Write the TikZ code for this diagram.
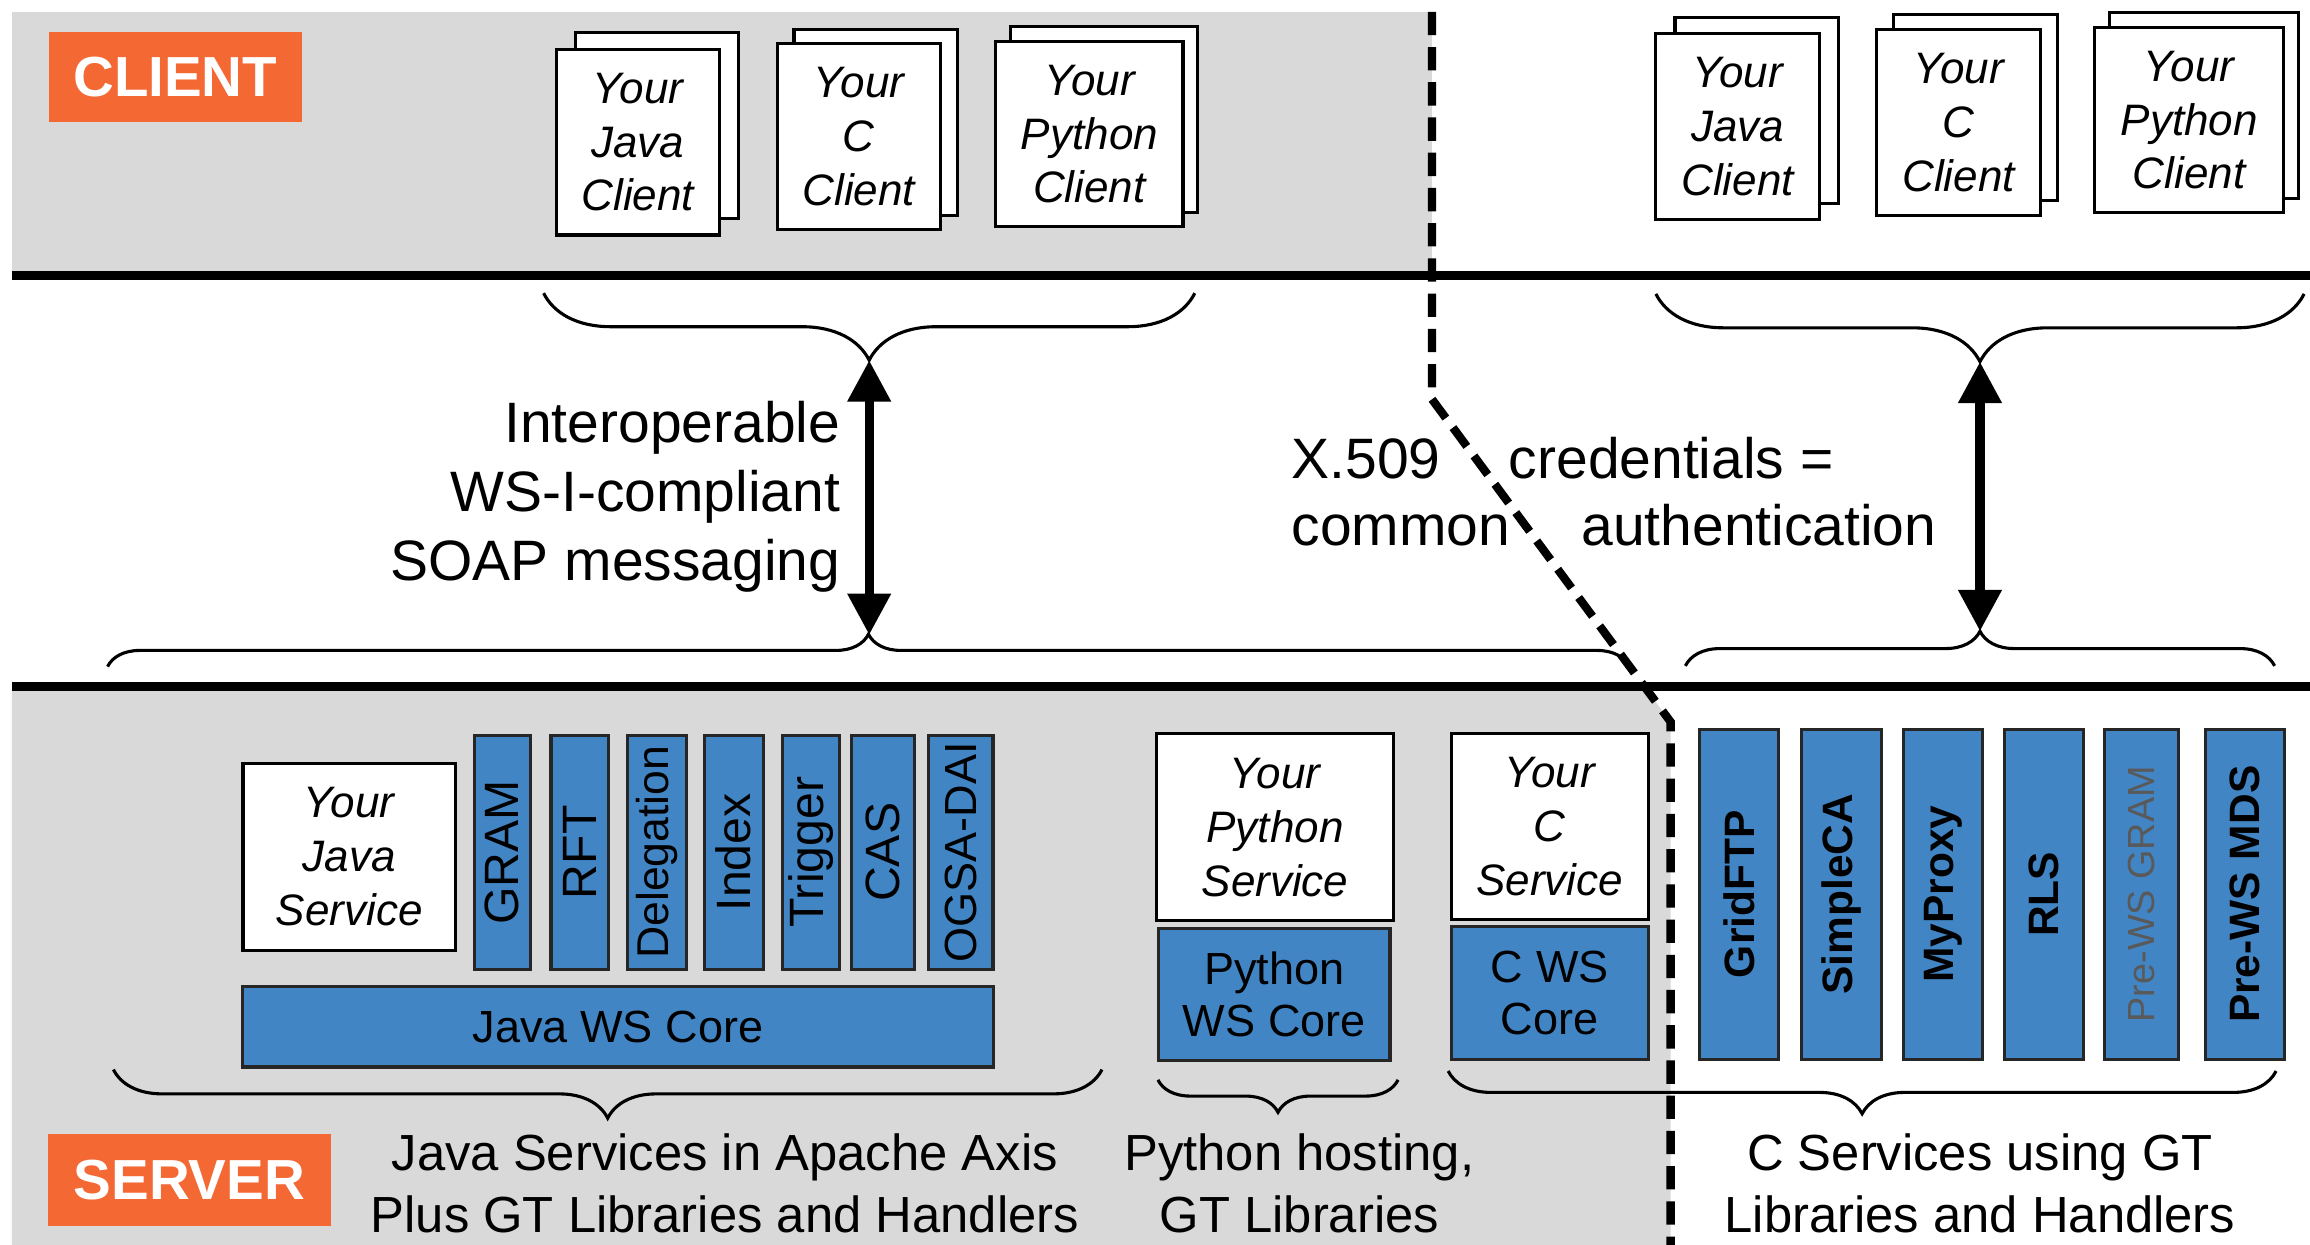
\documentclass[tikz,border=0pt]{standalone}
\usepackage{fontspec}
\setmainfont{Liberation Sans}
\usetikzlibrary{arrows.meta,decorations.pathreplacing}
\definecolor{bandgray}{RGB}{217,217,217}
\definecolor{tagorange}{RGB}{244,104,52}
\definecolor{wsblue}{RGB}{66,133,196}

\begin{document}
\begin{tikzpicture}[x=0.01cm,y=-0.01cm]

 \tikzset{
    doc/.style={draw, fill=white, line width=0.6pt, inner sep=0pt, align=center,
      minimum width=11.1mm, minimum height=12.6mm,
      font=\itshape\fontsize{8.5}{10.4}\selectfont},
    stack/.style={draw=black!85, fill=wsblue, line width=0.6pt, inner sep=0pt, rotate=90,
      minimum width=15.9mm, font=\fontsize{9.3}{11}\selectfont},
    cstack/.style={stack, minimum width=22.4mm, minimum height=5.35mm,
      font=\bfseries\fontsize{8.2}{10}\selectfont},
    core/.style={draw=black!85, fill=wsblue, line width=0.6pt, inner sep=0pt, align=center,
      font=\fontsize{8.7}{10.1}\selectfont},
    tag/.style={fill=tagorange, text=white, inner sep=0pt,
      font=\bfseries\fontsize{10.9}{13}\selectfont},
    caption/.style={inner sep=0pt, align=center, font=\fontsize{9.8}{11.9}\selectfont},
    remark/.style={inner sep=0pt, font=\fontsize{11}{13.35}\selectfont},
    curly/.style={decorate, decoration={brace, amplitude=#1}, line width=0.6pt},
    band/.style={line width=1.6pt},
    split/.style={line width=1.6pt, dash pattern=on 4.5pt off 2.3pt},
    link/.style={line width=1.8pt,
      {Triangle[length=8pt,width=8pt]}-{Triangle[length=8pt,width=8pt]}},
  }

  \useasboundingbox (0,0) rectangle (1568,845);

  \fill[bandgray] (8,8) rectangle (972,187);
  \fill[bandgray] (8,466) -- (1116,466) -- (1134,490) -- (1134,845) -- (8,845) -- cycle;
  \draw[band] (8,187) -- (1568,187);
  \draw[band] (8,466) -- (1568,466);
  \draw[split] (972,8) -- (972,271) -- (1134,490) -- (1134,845);

  \node[tag, minimum width=17.2mm, minimum height=6.1mm] (client) at (119,52.5) {CLIENT};
  \node[tag, minimum width=19.2mm, minimum height=6.2mm] (server) at (128.5,801) {SERVER};

  \node[doc] (ljavaback) at (446,85) {};
  \node[doc] (ljava) at (433,96.5) {Your\\Java\\Client};
  \node[doc] (lcback) at (594.5,83) {};
  \node[doc] (lc) at (583,92.5) {Your\\C\\Client};
  \node[doc, minimum width=12.7mm] (lpyback) at (749.5,81) {};
  \node[doc, minimum width=12.7mm] (lpy) at (739.5,91) {Your\\Python\\Client};

  \node[doc] (rjavaback) at (1192.5,75) {};
  \node[doc] (rjava) at (1179.5,86) {Your\\Java\\Client};
  \node[doc] (rcback) at (1341,73) {};
  \node[doc] (rc) at (1329.5,83) {Your\\C\\Client};
  \node[doc, minimum width=12.8mm] (rpyback) at (1496,71.5) {};
  \node[doc, minimum width=12.8mm] (rpy) at (1486,81.5) {Your\\Python\\Client};

  \draw[curly=4.55mm] (811,199) -- (369,199);
  \draw[curly=2.2mm] (73,452.5) -- (1106,452.5);
  \coordinate (ltop) at (590,244.5);
  \coordinate (lbot) at (590,431);
  \draw[link] (ltop) -- (lbot);

  \draw[curly=4.6mm] (1564,199.5) -- (1124,199.5);
  \draw[curly=2.35mm] (1144,452) -- (1544,452);
  \coordinate (rtop) at (1344,245.5);
  \coordinate (rbot) at (1344,428.5);
  \draw[link] (rtop) -- (rbot);

  \node[remark, align=right, anchor=north east] (soap) at (571,271.5)
    {Interoperable\\WS-I-compliant\\SOAP messaging};
  \node[remark, anchor=base west] (x509) at (876,324.7) {X.509};
  \node[remark, anchor=base west] (common) at (876,370) {common};
  \node[remark, anchor=base west] (cred) at (1023.5,324.7) {credentials =};
  \node[remark, anchor=base west] (authn) at (1072.8,370) {authentication};

  \node[doc, minimum width=14.4mm, minimum height=12.7mm] (jsvc) at (237,581.5) {Your\\Java\\Service};
  \node[stack, minimum height=3.8mm] (gram) at (341,578.5) {GRAM};
  \node[stack, minimum height=3.9mm] (rft) at (393.5,578.5) {RFT};
  \node[stack, minimum height=3.95mm, font=\fontsize{8.6}{10}\selectfont] (deleg) at (446,578.5) {Delegation};
  \node[stack, minimum height=4.0mm] (index) at (498,578.5) {Index};
  \node[stack, minimum height=3.9mm] (trigger) at (550.5,578.5) {Trigger};
  \node[stack, minimum height=4.3mm] (cas) at (599.5,578.5) {CAS};
  \node[stack, minimum height=4.4mm, font=\fontsize{8.7}{10}\selectfont] (ogsadai) at (652,578.5) {OGSA-DAI};
  \node[core, minimum width=50.9mm, minimum height=5.45mm] (jcore) at (419.5,697) {Java WS Core};

  \node[doc, minimum width=16.1mm, minimum height=12.7mm] (pysvc) at (865.5,561.5) {Your\\Python\\Service};
  \node[core, minimum width=15.7mm, minimum height=9mm] (pycore) at (865,675) {Python\\WS Core};
  \node[doc, minimum width=13.4mm, minimum height=12.6mm] (csvc) at (1052,561) {Your\\C\\Service};
  \node[core, minimum width=13.4mm, minimum height=9mm] (ccore) at (1052,674) {C WS\\Core};

  \node[cstack] (gridftp) at (1180.3,607) {GridFTP};
  \node[cstack, minimum height=5.4mm] (simpleca) at (1250,607) {SimpleCA};
  \node[cstack, minimum height=5.4mm] (myproxy) at (1318.8,607) {MyProxy};
  \node[cstack] (rls) at (1387.3,607) {RLS};
  \node[cstack, minimum height=5mm, text=black!65, font=\fontsize{7.3}{9}\selectfont] (pregram) at (1453.5,607) {Pre-WS GRAM};
  \node[cstack] (premds) at (1523.8,607) {Pre-WS MDS};

  \draw[curly=3.3mm] (748,726) -- (77,726);
  \draw[curly=2.2mm] (949,733) -- (786,733);
  \draw[curly=2.9mm] (1545,727) -- (983,727);

  \node[caption, anchor=north] (javanote) at (492,769)
    {Java Services in Apache Axis\\Plus GT Libraries and Handlers};
  \node[caption, anchor=north] (pynote) at (882,769) {Python hosting,\\GT Libraries};
  \node[caption, anchor=north] (cnote) at (1344,769) {C Services using GT\\Libraries and Handlers};
\end{tikzpicture}
\end{document}
